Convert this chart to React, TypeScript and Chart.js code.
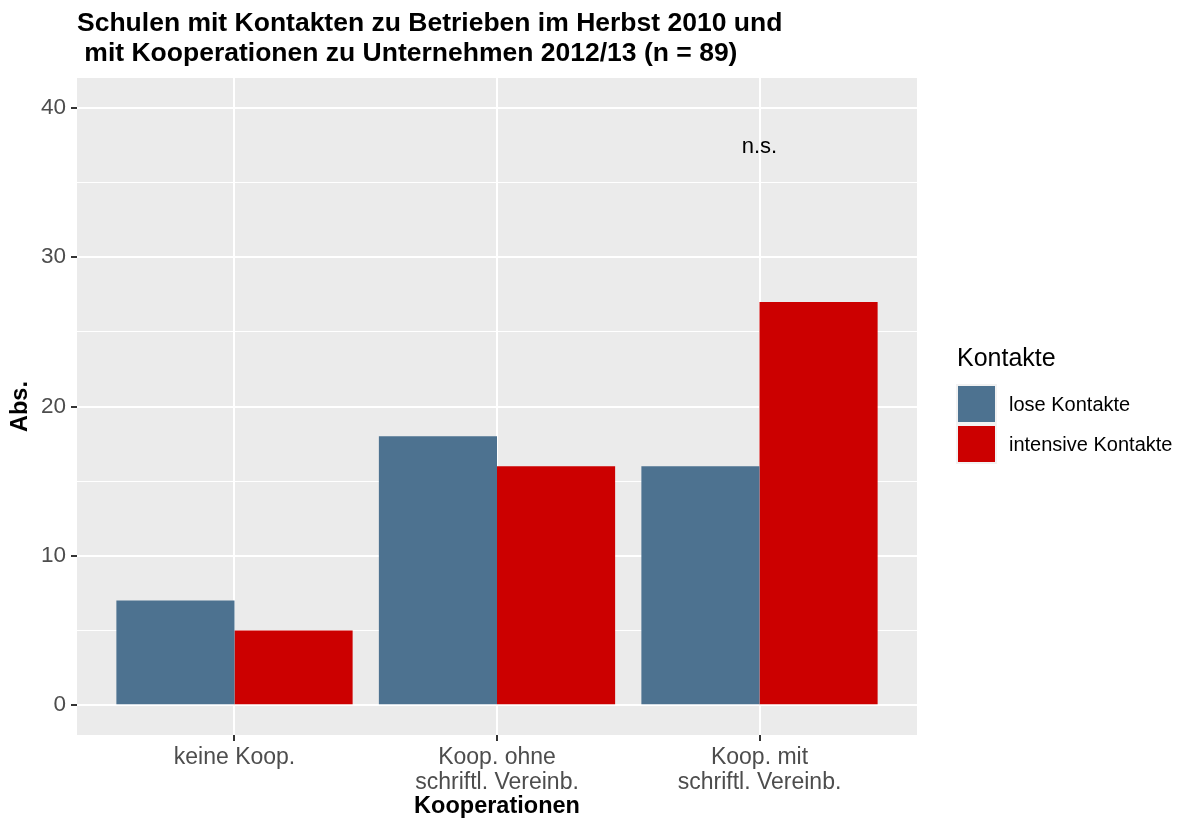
import React, { useEffect, useRef } from "react";
import { Chart, registerables } from "chart.js";

Chart.register(...registerables);

const categories: string[][] = [
  ["keine Koop."],
  ["Koop. ohne", "schriftl. Vereinb."],
  ["Koop. mit", "schriftl. Vereinb."],
];
const loseKontakte = [7, 18, 16];
const intensiveKontakte = [5, 16, 27];
const seriesNames = ["lose Kontakte", "intensive Kontakte"];
const seriesColors = ["#4D7290", "#CC0000"];
const yTicks = [0, 5, 10, 15, 20, 25, 30, 35, 40];
const titleLines = [
  "Schulen mit Kontakten zu Betrieben im Herbst 2010 und",
  " mit Kooperationen zu Unternehmen 2012/13 (n = 89)",
];
const annotationText = "n.s.";
const annotationCategory = 3;
const annotationValue = 37.4;

const FONT = "'Liberation Sans', Arial, Helvetica, sans-serif";

export default function App() {
  const ref = useRef<HTMLCanvasElement>(null);

  useEffect(() => {
    if (!ref.current) return;

    const bgPlugin = {
      id: "panelBg",
      beforeDraw(chart: any) {
        const { ctx, chartArea } = chart;
        ctx.save();
        ctx.fillStyle = "#FFFFFF";
        ctx.fillRect(0, 0, chart.width, chart.height);
        ctx.fillStyle = "#EBEBEB";
        ctx.fillRect(chartArea.left, chartArea.top, chartArea.right - chartArea.left, chartArea.bottom - chartArea.top);
        ctx.restore();
      },
    };

    const decoPlugin = {
      id: "deco",
      afterDraw(chart: any) {
        const { ctx, chartArea, scales } = chart;
        ctx.save();
        // title
        ctx.fillStyle = "#000000";
        ctx.font = `bold 26.5px ${FONT}`;
        ctx.textAlign = "left";
        ctx.textBaseline = "alphabetic";
        ctx.fillText(titleLines[0], chartArea.left, 30.5);
        ctx.fillText(titleLines[1], chartArea.left, 61);

        // annotation
        ctx.font = `22px ${FONT}`;
        ctx.textAlign = "center";
        ctx.textBaseline = "middle";
        ctx.fillText(annotationText, scales.x.getPixelForValue(annotationCategory), scales.y.getPixelForValue(annotationValue));

        // legend
        const lx = 956;
        ctx.textAlign = "left";
        ctx.font = `25px ${FONT}`;
        ctx.fillText("Kontakte", lx + 1, 359);
        const cellTop = 384;
        const cell = 40;
        seriesNames.forEach((name, i) => {
          const y0 = cellTop + i * cell;
          ctx.fillStyle = "#F2F2F2";
          ctx.fillRect(lx, y0, 41, cell);
          ctx.fillStyle = seriesColors[i];
          ctx.fillRect(lx + 2, y0 + 2, 37, cell - 4);
          ctx.fillStyle = "#000000";
          ctx.font = `20px ${FONT}`;
          ctx.fillText(name, 1009, y0 + cell / 2 + 1);
        });
        ctx.restore();
      },
    };

    const chart = new Chart(ref.current, {
      type: "bar",
      data: {
        datasets: [
          {
            label: seriesNames[0],
            data: loseKontakte.map((v, i) => ({ x: i + 1, y: v })),
            backgroundColor: seriesColors[0],
            borderWidth: 0,
          },
          {
            label: seriesNames[1],
            data: intensiveKontakte.map((v, i) => ({ x: i + 1, y: v })),
            backgroundColor: seriesColors[1],
            borderWidth: 0,
          },
        ],
      },
      options: {
        responsive: false,
        animation: false,
        events: [],
        layout: { padding: { top: 78, right: 262, left: 0, bottom: 0 } },
        datasets: { bar: { barPercentage: 1, categoryPercentage: 0.9 } },
        plugins: { legend: { display: false }, title: { display: false }, tooltip: { enabled: false } },
        scales: {
          x: {
            type: "linear",
            min: 0.4,
            max: 3.6,
            offset: false,
            afterBuildTicks: (s: any) => {
              s.ticks = categories.map((_, i) => ({ value: i + 1 }));
            },
            afterFit: (s: any) => {
              s.height = 86;
            },
            grid: {
              offset: false,
              color: "#FFFFFF",
              lineWidth: 2,
              tickColor: "#333333",
              tickLength: 6,
              tickWidth: 2,
            },
            border: { display: false },
            ticks: {
              autoSkip: false,
              maxRotation: 0,
              padding: 4,
              color: "#4D4D4D",
              font: { family: FONT, size: 23, lineHeight: 25 / 23 },
              callback: (v: any) => categories[Math.round(v) - 1] ?? "",
            },
            title: {
              display: true,
              text: "Kooperationen",
              color: "#000000",
              font: { family: FONT, size: 23.5, weight: "bold", lineHeight: 1.2 },
              padding: { top: -1, bottom: 0 },
            },
          },
          y: {
            type: "linear",
            min: -2,
            max: 42,
            afterBuildTicks: (s: any) => {
              s.ticks = yTicks.map((v) => ({ value: v }));
            },
            afterFit: (s: any) => {
              s.width = 77;
            },
            grid: {
              color: "#FFFFFF",
              lineWidth: (c: any) => (c.tick && c.tick.value % 10 === 0 ? 2 : 1),
              tickColor: (c: any) => (c.tick && c.tick.value % 10 === 0 ? "#333333" : "rgba(0,0,0,0)"),
              tickLength: 6,
              tickWidth: 2,
            },
            border: { display: false },
            ticks: {
              padding: 5,
              color: "#4D4D4D",
              font: { family: FONT, size: 22.5 },
              callback: (v: any) => (v % 10 === 0 ? String(v) : ""),
            },
            title: {
              display: true,
              text: "Abs.",
              color: "#000000",
              font: { family: FONT, size: 23.5, weight: "bold", lineHeight: 1.2 },
              padding: { top: 6, bottom: 6 },
            },
          },
        },
      },
      plugins: [bgPlugin, decoPlugin],
    } as any);

    return () => chart.destroy();
  }, []);

  return (
    <div style={{ position: "absolute", left: 0, top: 0, width: 1179, height: 821 }}>
      <canvas ref={ref} width={1179} height={821} style={{ display: "block" }} />
    </div>
  );
}
